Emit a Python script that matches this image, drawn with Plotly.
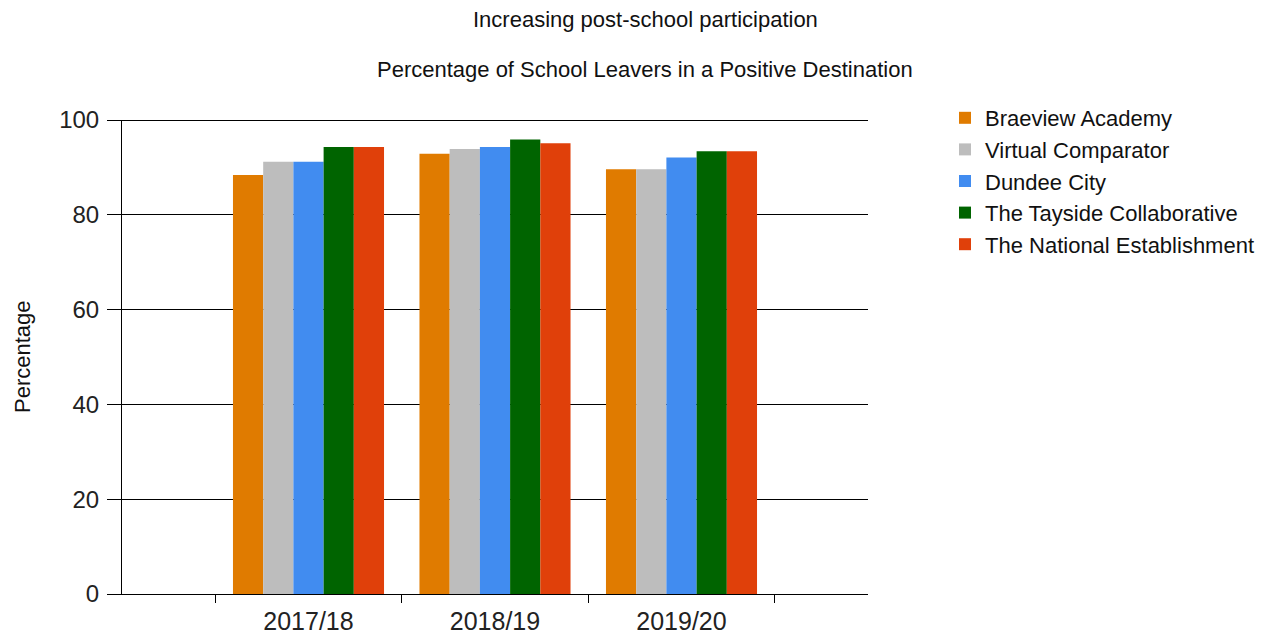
import plotly.graph_objects as go

years = ["2017/18", "2018/19", "2019/20"]
series_names = ["Braeview Academy", "Virtual Comparator", "Dundee City",
                "The Tayside Collaborative", "The National Establishment"]
braeview = [88.4, 92.9, 89.6]
virtual = [91.2, 93.9, 89.6]
dundee = [91.2, 94.3, 92.1]
tayside = [94.3, 95.9, 93.4]
national = [94.3, 95.1, 93.4]
colors = ["#E07B00", "#BDBDBD", "#418CF0", "#006400", "#E0400A"]
y_ticks = [0, 20, 40, 60, 80, 100]

FONT = "Liberation Sans"
W, H = 1270, 629
L, T = 114, 112
PW, PH = 746, 474

fig = go.Figure()
for name, vals, c in zip(series_names, [braeview, virtual, dundee, tayside, national], colors):
    fig.add_trace(go.Bar(name=name, x=years, y=vals, marker=dict(color=c, line=dict(width=0))))

fig.add_shape(type="line", xref="paper", yref="y", x0=0, x1=1, y0=y_ticks[-1], y1=y_ticks[-1],
              line=dict(color="black", width=2), layer="below")

fig.update_layout(
    width=W, height=H,
    margin=dict(l=L, r=W - L - PW, t=T, b=H - T - PH, autoexpand=False),
    paper_bgcolor="white", plot_bgcolor="white",
    barmode="group", bargap=0.19, bargroupgap=0,
    font=dict(family=FONT, color="#111"),
    showlegend=True,
    legend=dict(x=(937 - L) / PW, y=1 + (T - 89) / PH, xanchor="left", yanchor="top",
                font=dict(size=22, family=FONT, color="#111"),
                tracegroupgap=0, itemwidth=30),
    xaxis=dict(type="category", range=[-1, 3], tickson="boundaries", ticks="outside",
               ticklen=8, tickcolor="black", showline=True, linecolor="black", linewidth=1,
               showgrid=False, ticklabelstandoff=5,
               tickfont=dict(size=25, family=FONT, color="#222")),
    yaxis=dict(range=[0, 100], tickvals=y_ticks, ticks="outside", ticklen=14,
               tickcolor="black", showline=True, linecolor="black", linewidth=1,
               showgrid=True, gridcolor="black", gridwidth=1, zeroline=False,
               ticklabelstandoff=3,
               tickfont=dict(size=24, family=FONT, color="#222")),
    annotations=[
        dict(text="Increasing post-school participation", xref="paper", yref="paper",
             x=(637 - L) / PW, y=1 + (T - 12) / PH, xanchor="center", yanchor="middle",
             showarrow=False, font=dict(size=22, family=FONT, color="#111")),
        dict(text="Percentage of School Leavers in a Positive Destination", xref="paper", yref="paper",
             x=(637 - L) / PW, y=1 + (T - 62) / PH, xanchor="center", yanchor="middle",
             showarrow=False, font=dict(size=22, family=FONT, color="#111")),
        dict(text="Percentage", xref="paper", yref="paper", textangle=-90,
             x=(14 - L) / PW, y=0.5, xanchor="center", yanchor="middle",
             showarrow=False, font=dict(size=22, family=FONT, color="#111")),
    ],
)
fig.write_html("out.html")
